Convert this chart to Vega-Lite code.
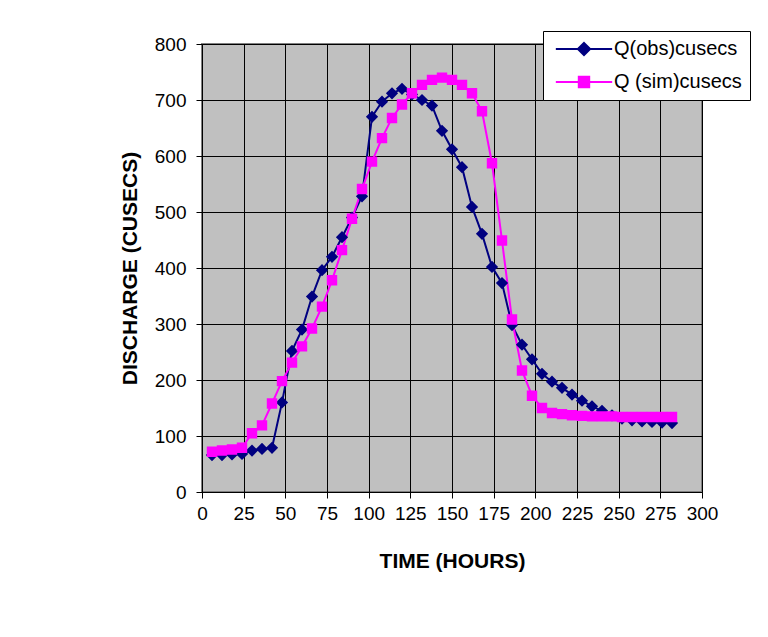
{
  "$schema": "https://vega.github.io/schema/vega-lite/v6.json",
  "width": 500,
  "height": 448,
  "autosize": {"type": "none"},
  "padding": {"left": 202, "top": 44, "right": 66, "bottom": 145},
  "background": "white",
  "data": {"values": [
    {"t": 6, "series": "Q(obs)cusecs", "q": 66},
    {"t": 12, "series": "Q(obs)cusecs", "q": 66},
    {"t": 18, "series": "Q(obs)cusecs", "q": 67},
    {"t": 24, "series": "Q(obs)cusecs", "q": 68},
    {"t": 30, "series": "Q(obs)cusecs", "q": 74},
    {"t": 36, "series": "Q(obs)cusecs", "q": 77},
    {"t": 42, "series": "Q(obs)cusecs", "q": 79},
    {"t": 48, "series": "Q(obs)cusecs", "q": 160},
    {"t": 54, "series": "Q(obs)cusecs", "q": 252},
    {"t": 60, "series": "Q(obs)cusecs", "q": 290},
    {"t": 66, "series": "Q(obs)cusecs", "q": 349},
    {"t": 72, "series": "Q(obs)cusecs", "q": 396},
    {"t": 78, "series": "Q(obs)cusecs", "q": 420},
    {"t": 84, "series": "Q(obs)cusecs", "q": 455},
    {"t": 90, "series": "Q(obs)cusecs", "q": 490},
    {"t": 96, "series": "Q(obs)cusecs", "q": 528},
    {"t": 102, "series": "Q(obs)cusecs", "q": 670},
    {"t": 108, "series": "Q(obs)cusecs", "q": 697},
    {"t": 114, "series": "Q(obs)cusecs", "q": 712},
    {"t": 120, "series": "Q(obs)cusecs", "q": 720},
    {"t": 126, "series": "Q(obs)cusecs", "q": 710},
    {"t": 132, "series": "Q(obs)cusecs", "q": 700},
    {"t": 138, "series": "Q(obs)cusecs", "q": 690},
    {"t": 144, "series": "Q(obs)cusecs", "q": 645},
    {"t": 150, "series": "Q(obs)cusecs", "q": 612},
    {"t": 156, "series": "Q(obs)cusecs", "q": 580},
    {"t": 162, "series": "Q(obs)cusecs", "q": 509},
    {"t": 168, "series": "Q(obs)cusecs", "q": 461},
    {"t": 174, "series": "Q(obs)cusecs", "q": 402},
    {"t": 180, "series": "Q(obs)cusecs", "q": 373},
    {"t": 186, "series": "Q(obs)cusecs", "q": 298},
    {"t": 192, "series": "Q(obs)cusecs", "q": 263},
    {"t": 198, "series": "Q(obs)cusecs", "q": 237},
    {"t": 204, "series": "Q(obs)cusecs", "q": 211},
    {"t": 210, "series": "Q(obs)cusecs", "q": 197},
    {"t": 216, "series": "Q(obs)cusecs", "q": 186},
    {"t": 222, "series": "Q(obs)cusecs", "q": 174},
    {"t": 228, "series": "Q(obs)cusecs", "q": 163},
    {"t": 234, "series": "Q(obs)cusecs", "q": 153},
    {"t": 240, "series": "Q(obs)cusecs", "q": 145},
    {"t": 246, "series": "Q(obs)cusecs", "q": 137},
    {"t": 252, "series": "Q(obs)cusecs", "q": 131},
    {"t": 258, "series": "Q(obs)cusecs", "q": 128},
    {"t": 264, "series": "Q(obs)cusecs", "q": 126},
    {"t": 270, "series": "Q(obs)cusecs", "q": 125},
    {"t": 276, "series": "Q(obs)cusecs", "q": 124},
    {"t": 282, "series": "Q(obs)cusecs", "q": 123},
    {"t": 6, "series": "Q (sim)cusecs", "q": 72},
    {"t": 12, "series": "Q (sim)cusecs", "q": 74},
    {"t": 18, "series": "Q (sim)cusecs", "q": 76},
    {"t": 24, "series": "Q (sim)cusecs", "q": 79},
    {"t": 30, "series": "Q (sim)cusecs", "q": 105},
    {"t": 36, "series": "Q (sim)cusecs", "q": 119},
    {"t": 42, "series": "Q (sim)cusecs", "q": 158},
    {"t": 48, "series": "Q (sim)cusecs", "q": 198},
    {"t": 54, "series": "Q (sim)cusecs", "q": 231},
    {"t": 60, "series": "Q (sim)cusecs", "q": 260},
    {"t": 66, "series": "Q (sim)cusecs", "q": 292},
    {"t": 72, "series": "Q (sim)cusecs", "q": 331},
    {"t": 78, "series": "Q (sim)cusecs", "q": 378},
    {"t": 84, "series": "Q (sim)cusecs", "q": 432},
    {"t": 90, "series": "Q (sim)cusecs", "q": 488},
    {"t": 96, "series": "Q (sim)cusecs", "q": 541},
    {"t": 102, "series": "Q (sim)cusecs", "q": 590},
    {"t": 108, "series": "Q (sim)cusecs", "q": 632},
    {"t": 114, "series": "Q (sim)cusecs", "q": 668},
    {"t": 120, "series": "Q (sim)cusecs", "q": 692},
    {"t": 126, "series": "Q (sim)cusecs", "q": 712},
    {"t": 132, "series": "Q (sim)cusecs", "q": 727},
    {"t": 138, "series": "Q (sim)cusecs", "q": 736},
    {"t": 144, "series": "Q (sim)cusecs", "q": 740},
    {"t": 150, "series": "Q (sim)cusecs", "q": 736},
    {"t": 156, "series": "Q (sim)cusecs", "q": 727},
    {"t": 162, "series": "Q (sim)cusecs", "q": 712},
    {"t": 168, "series": "Q (sim)cusecs", "q": 680},
    {"t": 174, "series": "Q (sim)cusecs", "q": 587},
    {"t": 180, "series": "Q (sim)cusecs", "q": 449},
    {"t": 186, "series": "Q (sim)cusecs", "q": 308},
    {"t": 192, "series": "Q (sim)cusecs", "q": 217},
    {"t": 198, "series": "Q (sim)cusecs", "q": 172},
    {"t": 204, "series": "Q (sim)cusecs", "q": 150},
    {"t": 210, "series": "Q (sim)cusecs", "q": 141},
    {"t": 216, "series": "Q (sim)cusecs", "q": 139},
    {"t": 222, "series": "Q (sim)cusecs", "q": 137},
    {"t": 228, "series": "Q (sim)cusecs", "q": 136},
    {"t": 234, "series": "Q (sim)cusecs", "q": 135},
    {"t": 240, "series": "Q (sim)cusecs", "q": 135},
    {"t": 246, "series": "Q (sim)cusecs", "q": 135},
    {"t": 252, "series": "Q (sim)cusecs", "q": 134},
    {"t": 258, "series": "Q (sim)cusecs", "q": 134},
    {"t": 264, "series": "Q (sim)cusecs", "q": 134},
    {"t": 270, "series": "Q (sim)cusecs", "q": 134},
    {"t": 276, "series": "Q (sim)cusecs", "q": 134},
    {"t": 282, "series": "Q (sim)cusecs", "q": 134}
  ]},
  "encoding": {
    "x": {"field": "t", "type": "quantitative", "title": "TIME (HOURS)",
      "scale": {"domain": [0, 300], "nice": false},
      "axis": {"values": [0, 25, 50, 75, 100, 125, 150, 175, 200, 225, 250, 275, 300], "labelPadding": 6, "titlePadding": 27, "labelOverlap": false, "labelFlush": false}},
    "y": {"field": "q", "type": "quantitative", "title": "DISCHARGE (CUSECS)",
      "scale": {"domain": [0, 800], "nice": false},
      "axis": {"values": [0, 100, 200, 300, 400, 500, 600, 700, 800], "labelPadding": 10, "titlePadding": 14, "labelOverlap": false, "labelFlush": false}}
  },
  "layer": [
    {
      "mark": {"type": "line", "strokeWidth": 2},
      "encoding": {
        "color": {"field": "series", "type": "nominal",
          "scale": {"domain": ["Q(obs)cusecs", "Q (sim)cusecs"], "range": ["#000080", "#FF00FF"]}}
      }
    },
    {
      "mark": {"type": "point", "filled": true, "size": 150, "strokeWidth": 0, "opacity": 1},
      "encoding": {
        "color": {"field": "series", "type": "nominal",
          "scale": {"domain": ["Q(obs)cusecs", "Q (sim)cusecs"], "range": ["#000080", "#FF00FF"]}},
        "stroke": {"field": "series", "type": "nominal",
          "scale": {"domain": ["Q(obs)cusecs", "Q (sim)cusecs"], "range": ["#000080", "#FF00FF"]}},
        "shape": {"field": "series", "type": "nominal",
          "scale": {"domain": ["Q(obs)cusecs", "Q (sim)cusecs"], "range": ["M0,-1L1,0L0,1L-1,0ZM-4.6,0L4.6,0", "M-0.85,-0.85H0.85V0.85H-0.85ZM-4.6,0L4.6,0"]}}
      }
    }
  ],
  "config": {
    "view": {"fill": "#C0C0C0", "stroke": "#808080", "strokeWidth": 2},
    "axis": {
      "grid": true, "gridColor": "black", "gridOpacity": 1, "gridWidth": 1,
      "domainColor": "black", "domainWidth": 1, "tickColor": "black", "tickSize": 6,
      "labelColor": "black", "labelFont": "Liberation Sans", "labelFontSize": 19,
      "titleFont": "Liberation Sans", "titleFontSize": 21, "titleFontWeight": "bold", "titleColor": "black"
    },
    "legend": {
      "orient": "none", "legendX": 341, "legendY": -13, "title": null,
      "fillColor": "white", "strokeColor": "black", "padding": 8,
      "symbolSize": 150, "symbolStrokeWidth": 2, "symbolOffset": 23, "labelOffset": 20,
      "labelFont": "Liberation Sans", "labelFontSize": 20, "labelColor": "black",
      "rowPadding": 12, "labelLimit": 300
    }
  }
}
